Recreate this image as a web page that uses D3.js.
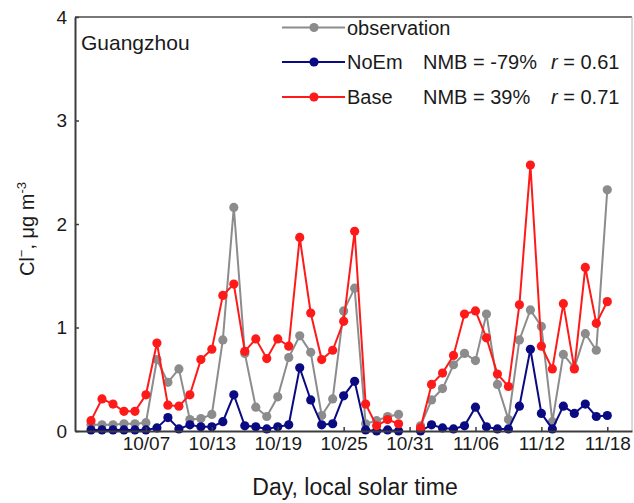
<!DOCTYPE html>
<html>
<head>
<meta charset="utf-8">
<script src="https://cdn.jsdelivr.net/npm/d3@7"></script>
<style>
  body { margin: 0; background: #fff; }
  svg { font-family: "Liberation Sans", Arial, sans-serif; }
</style>
</head>
<body>
<svg id="chart" width="634" height="503"></svg>
<script>
// Days (local solar time); 10/31 has no data
const days = [
  "10/02","10/03","10/04","10/05","10/06","10/07","10/08","10/09","10/10","10/11",
  "10/12","10/13","10/14","10/15","10/16","10/17","10/18","10/19","10/20","10/21",
  "10/22","10/23","10/24","10/25","10/26","10/27","10/28","10/29","10/30","10/31",
  "11/01","11/02","11/03","11/04","11/05","11/06","11/07","11/08","11/09","11/10",
  "11/11","11/12","11/13","11/14","11/15","11/16","11/17","11/18"
];

const observation = [
  0.06, 0.06, 0.06, 0.07, 0.07, 0.08, 0.69, 0.47, 0.60, 0.11,
  0.12, 0.16, 0.88, 2.16, 0.75, 0.23, 0.14, 0.33, 0.71, 0.92,
  0.76, 0.15, 0.31, 1.16, 1.38, 0.07, 0.10, 0.14, 0.16, null,
  0.05, 0.30, 0.41, 0.64, 0.75, 0.68, 1.13, 0.45, 0.11, 0.88,
  1.17, 1.01, 0.09, 0.74, 0.61, 0.94, 0.78, 2.33
];

const noEm = [
  0.01, 0.01, 0.01, 0.01, 0.01, 0.01, 0.03, 0.13, 0.02, 0.06,
  0.04, 0.04, 0.09, 0.35, 0.05, 0.04, 0.02, 0.04, 0.06, 0.61,
  0.30, 0.06, 0.07, 0.34, 0.48, 0.01, 0.00, 0.01, 0.00, null,
  0.00, 0.06, 0.03, 0.02, 0.05, 0.23, 0.04, 0.02, 0.02, 0.24,
  0.79, 0.17, 0.02, 0.24, 0.17, 0.26, 0.14, 0.15
];

const base = [
  0.10, 0.31, 0.26, 0.19, 0.19, 0.35, 0.85, 0.25, 0.24, 0.35,
  0.69, 0.79, 1.31, 1.42, 0.77, 0.89, 0.70, 0.89, 0.82, 1.87,
  1.14, 0.69, 0.78, 1.06, 1.93, 0.26, 0.05, 0.11, 0.07, null,
  0.03, 0.45, 0.56, 0.73, 1.13, 1.16, 0.90, 0.55, 0.43, 1.22,
  2.57, 0.82, 0.60, 1.23, 0.60, 1.58, 1.04, 1.25
];

const xTickLabels = ["10/07","10/13","10/19","10/25","10/31","11/06","11/12","11/18"];
const yTicks = [0, 1, 2, 3, 4];

const series = [
  { name: "observation", values: observation, color: "#8c8c8c", nmb: "", r: "" },
  { name: "NoEm", values: noEm, color: "#0a0a82", nmb: "NMB = -79%", r: "0.61" },
  { name: "Base", values: base, color: "#ff1a1a", nmb: "NMB = 39%", r: "0.71" }
];

const parseDay = d3.timeParse("%m/%d");
const dates = days.map(parseDay);

const plot = { left: 75, right: 632, top: 17, bottom: 431 };
const svg = d3.select("#chart");

const x = d3.scaleTime()
  .domain([d3.timeHour.offset(dates[0], -35), d3.timeHour.offset(dates[dates.length - 1], 54)])
  .range([plot.left, plot.right]);

const y = d3.scaleLinear()
  .domain([0, 4])
  .range([plot.bottom, plot.top]);

// frame: top and right edges
svg.append("line")
  .attr("x1", plot.left).attr("x2", plot.right).attr("y1", plot.top).attr("y2", plot.top)
  .attr("stroke", "#4a4a4a").attr("stroke-width", 1.5);
svg.append("line")
  .attr("x1", plot.right).attr("x2", plot.right).attr("y1", plot.top).attr("y2", plot.bottom)
  .attr("stroke", "#b4b4b4").attr("stroke-width", 1);

// series lines and dots
const line = d3.line()
  .defined(d => d.v !== null)
  .x(d => x(d.date))
  .y(d => y(d.v));

series.forEach(s => {
  const pts = dates.map((date, i) => ({ date, v: s.values[i] }));
  const g = svg.append("g");
  g.append("path")
    .datum(pts)
    .attr("d", line)
    .attr("fill", "none")
    .attr("stroke", s.color)
    .attr("stroke-width", 2);
  g.selectAll("circle")
    .data(pts.filter(d => d.v !== null))
    .enter()
    .append("circle")
    .attr("cx", d => x(d.date))
    .attr("cy", d => y(d.v))
    .attr("r", 4.6)
    .attr("fill", s.color);
});

// axes
const xAxis = svg.append("g")
  .attr("transform", `translate(0,${plot.bottom})`)
  .call(d3.axisBottom(x)
    .tickValues(xTickLabels.map(parseDay))
    .tickFormat(d3.timeFormat("%m/%d"))
    .tickSizeInner(-4)
    .tickSizeOuter(0)
    .tickPadding(6));

const yAxis = svg.append("g")
  .attr("transform", `translate(${plot.left},0)`)
  .call(d3.axisLeft(y)
    .tickValues(yTicks)
    .tickFormat(d3.format("d"))
    .tickSizeInner(-4)
    .tickSizeOuter(0)
    .tickPadding(8));

[xAxis, yAxis].forEach(a => {
  a.select(".domain").attr("stroke", "#3c3c3c").attr("stroke-width", 2);
  a.selectAll(".tick line").attr("stroke", "#3c3c3c").attr("stroke-width", 1.5);
  a.selectAll("text").attr("fill", "#1a1a1a").style("font-size", "19px")
    .style("font-family", "'Liberation Sans', Arial, sans-serif");
});

// axis titles
svg.append("text")
  .attr("x", 355).attr("y", 495)
  .attr("text-anchor", "middle")
  .style("font-size", "23px")
  .attr("fill", "#1a1a1a")
  .text("Day, local solar time");

const yTitle = svg.append("text")
  .attr("transform", "translate(34,229) rotate(-90)")
  .attr("text-anchor", "middle")
  .style("font-size", "20px")
  .attr("fill", "#1a1a1a");
yTitle.append("tspan").text("Cl");
yTitle.append("tspan").attr("dy", -8).style("font-size", "13px").text("\u2212");
yTitle.append("tspan").attr("dy", 8).text(", \u03bcg m");
yTitle.append("tspan").attr("dy", -8).style("font-size", "13px").text("-3");

// site name
svg.append("text")
  .attr("x", 81).attr("y", 50)
  .style("font-size", "21px")
  .attr("fill", "#1a1a1a")
  .text("Guangzhou");

// legend
const legendY = [27.5, 62, 97];
series.forEach((s, i) => {
  const g = svg.append("g").attr("transform", `translate(0,${legendY[i]})`);
  g.append("line")
    .attr("x1", 282).attr("x2", 345)
    .attr("stroke", s.color).attr("stroke-width", 2);
  g.append("circle").attr("cx", 314).attr("r", 4.6).attr("fill", s.color);
  g.append("text").attr("x", 347).attr("dy", "0.35em")
    .style("font-size", "20px").attr("fill", "#1a1a1a").text(s.name);
  if (s.nmb) {
    g.append("text").attr("x", 423).attr("dy", "0.35em")
      .style("font-size", "20px").attr("fill", "#1a1a1a").text(s.nmb);
    const t = g.append("text").attr("x", 551).attr("dy", "0.35em")
      .style("font-size", "20px").attr("fill", "#1a1a1a");
    t.append("tspan").style("font-style", "italic").text("r");
    t.append("tspan").text(" = " + s.r);
  }
});
</script>
</body>
</html>
